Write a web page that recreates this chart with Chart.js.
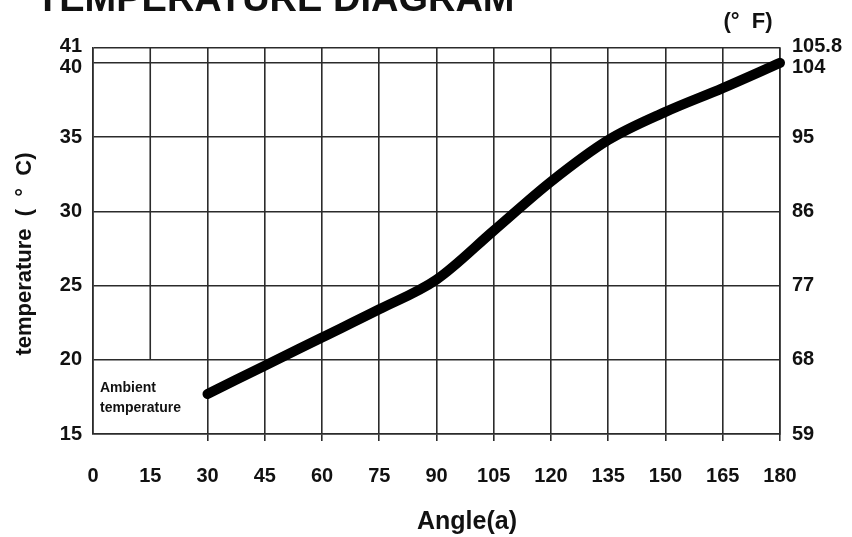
<!DOCTYPE html>
<html>
<head>
<meta charset="utf-8">
<script src="https://cdn.jsdelivr.net/npm/chart.js@4.4.1/dist/chart.umd.min.js"></script>
<style>
html,body{margin:0;padding:0;background:#fff;}
#wrap{width:852px;height:537px;position:relative;overflow:hidden;}
</style>
</head>
<body>
<div id="wrap"><canvas id="c" width="852" height="537"></canvas></div>
<script>
// ---- data ----
const angles = [30, 45, 60, 75, 90, 105, 120, 135, 150, 165, 180];
const temps = [17.7, 19.6, 21.5, 23.4, 25.4, 28.7, 32.0, 34.8, 36.7, 38.3, 40.0];
const angleTicks = [0, 15, 30, 45, 60, 75, 90, 105, 120, 135, 150, 165, 180];
const celsiusTicks = [15, 20, 25, 30, 35, 40, 41];
const celsiusLabels = ['15', '20', '25', '30', '35', '40', '41'];
const fahrenheitLabels = ['59', '68', '77', '86', '95', '104', '105.8'];
const titleText = 'TEMPERATURE DIAGRAM';
const yTitleText = 'temperature  (  °  C)';
const y2TitleText = '(°  F)';
const xTitleText = 'Angle(a)';
const noteLines = ['Ambient', 'temperature'];

const FONT = '"Liberation Sans", Arial, Helvetica, sans-serif';
const GRID = '#2b2b2b';
const GRIDW = 1.6;
const TEXT = '#111';

const points = angles.map((a, i) => ({x: a, y: temps[i]}));

// labels of the two crowded top ticks are nudged apart (41 up, 40 down)
function tickLabel(list) {
  return (v, i) => {
    const t = list[i];
    if (celsiusTicks[i] === 41) return [t, ''];
    if (celsiusTicks[i] === 40) return ['', t];
    return t;
  };
}
function tickFont(c) {
  const v = c.tick ? c.tick.value : null;
  let lh = 1.2;
  if (v === 41) lh = '4px';
  if (v === 40) lh = '10px';
  return {family: FONT, size: 20, weight: 'bold', lineHeight: lh};
}

const decor = {
  id: 'decor',
  beforeDatasetsDraw(chart) {
    const {ctx, scales: {x, y}} = chart;
    ctx.save();
    ctx.strokeStyle = GRID;
    ctx.lineWidth = GRIDW;
    const px = x.getPixelForValue(15);
    ctx.beginPath();
    ctx.moveTo(px, y.getPixelForValue(20));
    ctx.lineTo(px, y.getPixelForValue(41));
    ctx.stroke();
    ctx.restore();
  },
  afterDraw(chart) {
    const {ctx, scales: {x}} = chart;
    ctx.save();
    ctx.fillStyle = TEXT;
    ctx.font = 'bold 38px ' + FONT;
    ctx.textAlign = 'left';
    ctx.textBaseline = 'alphabetic';
    ctx.fillText(titleText, 36, 11);
    ctx.font = 'bold 22px ' + FONT;
    ctx.textAlign = 'center';
    ctx.textBaseline = 'middle';
    ctx.fillText(y2TitleText, 748, 22);
    ctx.font = 'bold 25px ' + FONT;
    ctx.fillText(xTitleText, 467, 522);
    ctx.save();
    ctx.translate(25, 254);
    ctx.rotate(-Math.PI / 2);
    ctx.font = 'bold 22px ' + FONT;
    ctx.fillText(yTitleText, 0, 0);
    ctx.restore();
    ctx.font = 'bold 14px ' + FONT;
    ctx.textAlign = 'left';
    const lx = x.getPixelForValue(0) + 7;
    ctx.fillText(noteLines[0], lx, 388);
    ctx.fillText(noteLines[1], lx, 408);
    ctx.restore();
  }
};

new Chart(document.getElementById('c'), {
  type: 'line',
  data: {
    datasets: [{
      data: points,
      borderColor: '#000',
      borderWidth: 10,
      borderCapStyle: 'round',
      borderJoinStyle: 'round',
      pointRadius: 0,
      fill: false,
      cubicInterpolationMode: 'monotone',
      clip: false
    }]
  },
  options: {
    responsive: false,
    animation: false,
    devicePixelRatio: 1,
    layout: {padding: {top: 48, left: 0, right: 0, bottom: 0}},
    plugins: {legend: {display: false}, tooltip: {enabled: false}, title: {display: false}},
    scales: {
      x: {
        type: 'linear',
        min: 0, max: 180,
        afterBuildTicks: s => { s.ticks = angleTicks.map(v => ({value: v})); },
        afterFit: s => { s.height = 103; },
        ticks: {
          autoSkip: false, maxRotation: 0,
          color: TEXT,
          font: {family: FONT, size: 20, weight: 'bold'},
          padding: 23
        },
        grid: {
          color: c => (c.tick && c.tick.value === 15) ? 'rgba(0,0,0,0)' : GRID,
          tickColor: c => (c.tick && c.tick.value <= 15) ? 'rgba(0,0,0,0)' : GRID,
          lineWidth: GRIDW,
          tickLength: 7,
          drawTicks: true
        },
        border: {display: true, color: GRID, width: GRIDW}
      },
      y: {
        type: 'linear',
        position: 'left',
        min: 15, max: 41,
        afterBuildTicks: s => { s.ticks = celsiusTicks.map(v => ({value: v})); },
        afterFit: s => { s.width = 93; },
        ticks: {
          autoSkip: false,
          color: TEXT,
          font: tickFont,
          padding: 11,
          callback: tickLabel(celsiusLabels)
        },
        grid: {color: GRID, lineWidth: GRIDW, drawTicks: false},
        border: {display: true, color: GRID, width: GRIDW}
      },
      y2: {
        type: 'linear',
        position: 'right',
        min: 15, max: 41,
        afterBuildTicks: s => { s.ticks = celsiusTicks.map(v => ({value: v})); },
        afterFit: s => { s.width = 72; },
        ticks: {
          autoSkip: false,
          color: TEXT,
          font: tickFont,
          padding: 12,
          callback: tickLabel(fahrenheitLabels)
        },
        grid: {display: true, drawOnChartArea: false, drawTicks: false},
        border: {display: true, color: GRID, width: GRIDW}
      }
    }
  },
  plugins: [decor]
});
</script>
</body>
</html>
